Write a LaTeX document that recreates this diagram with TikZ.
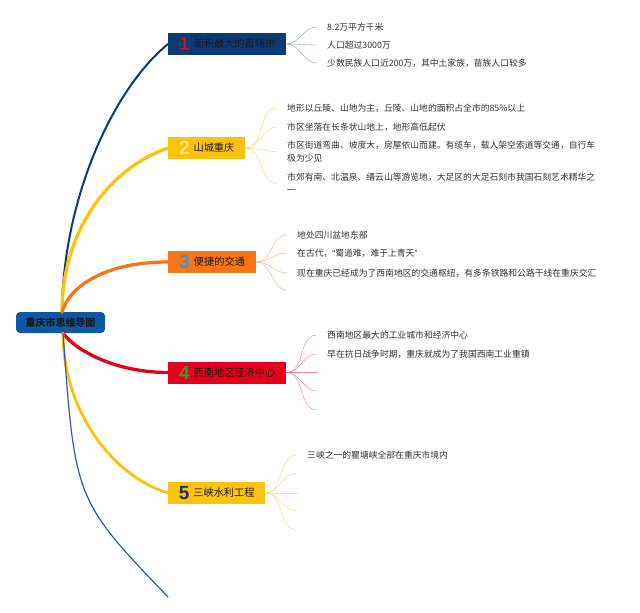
\documentclass[tikz,border=0pt]{standalone}
\usepackage{fontspec}
\setmainfont{Noto Sans CJK SC}
\newfontfamily\numfont{Liberation Sans}
\definecolor{rootfill}{HTML}{0D58A7}
\definecolor{navy}{HTML}{0B3B74}
\definecolor{yel}{HTML}{FDC20E}
\definecolor{ora}{HTML}{F97415}
\definecolor{redc}{HTML}{E5001D}
\definecolor{bluel}{HTML}{2E5BAB}
\definecolor{txtdark}{HTML}{1A1A1A}
\definecolor{leaftxt}{HTML}{333333}
\definecolor{numA}{HTML}{C8102E}
\definecolor{numB}{HTML}{FFE27A}
\definecolor{numC}{HTML}{4A90C8}
\definecolor{numD}{HTML}{3C9A30}
\definecolor{numE}{HTML}{1F2F6A}
\definecolor{lA}{HTML}{8A9AB8}
\definecolor{lB}{HTML}{F6D46A}
\definecolor{lC}{HTML}{F6AE78}
\definecolor{lD}{HTML}{EE7E8E}
\definecolor{lE}{HTML}{F8D878}
\newcommand\bignum[2]{\raisebox{-3pt}{\textcolor{#1}{\numfont\bfseries\fontsize{19}{19}\selectfont #2}}\hspace{4pt}}
\begin{document}
\begin{tikzpicture}[x=1pt,y=-1pt,
  box/.style={inner sep=0pt, minimum height=22pt, anchor=west, text=txtdark, font=\fontsize{10.2}{12}\selectfont},
  leaf/.style={anchor=west, inner sep=0pt, text=leaftxt, font=\fontsize{8.8}{13}\selectfont, align=left},
  rootbox/.style={fill=rootfill, rounded corners=4pt, minimum width=89pt, minimum height=21pt, inner sep=0pt, text=txtdark, font=\bfseries\fontsize{10}{12}\selectfont},
  main/.style={line cap=round},
  twig/.style={line width=0.7pt, out=0, in=180}]
\useasboundingbox (0,0) rectangle (640,613);
\fill[white] (0,0) rectangle (640,613);
% root
\node[rootbox] (root) at (60.5,322.5) {重庆市思维导图};
\coordinate (rt) at (62,312);
\coordinate (rb) at (63,333);
% main nodes
\node[box, fill=navy, minimum width=118pt] (n1) at (168,44) {\bignum{numA}{1}面积最大的直辖市};
\node[box, fill=yel, minimum width=77pt] (n2) at (168,148) {\bignum{numB}{2}山城重庆};
\node[box, fill=ora, minimum width=88pt] (n3) at (168,262) {\bignum{numC}{3}便捷的交通};
\node[box, fill=redc, minimum width=118pt] (n4) at (168,372.5) {\bignum{numD}{4}西南地区经济中心};
\node[box, fill=yel, minimum width=97pt] (n5) at (168,493) {\bignum{numE}{5}三峡水利工程};
\coordinate (n6) at (168,597);
% main connectors
\draw[main, navy, line width=2pt] (rt) .. controls (63,200) and (112,90) .. (n1.west);
\draw[main, yel, line width=3.3pt] (rt) .. controls (62,230) and (110,168) .. (n2.west);
\draw[main, ora, line width=3.3pt] (rt) .. controls (68,290) and (100,262) .. (n3.west);
\draw[main, redc, line width=3.3pt] (rb) .. controls (75,350) and (115,372.5) .. (n4.west);
\draw[main, yel, line width=2.8pt] (rb) .. controls (63,410) and (112,476) .. (n5.west);
\draw[main, bluel, line width=1.2pt] (rb) .. controls (75,500) .. (n6);
% leaves 1
\node[leaf] (a1) at (327,27) {8.2万平方千米};
\node[leaf] (a2) at (327,45) {人口超过3000万};
\node[leaf] (a3) at (327,63) {少数民族人口近200万，其中土家族，苗族人口较多};
\foreach \t in {a1,a2,a3} \draw[lA] (n1.east) to[twig] ([xshift=-10pt]\t.west);
% leaves 2
\node[leaf] (b1) at (287,108) {地形以丘陵、山地为主，丘陵、山地的面积占全市的85\%以上};
\node[leaf] (b2) at (287,127) {市区坐落在长条状山地上，地形高低起伏};
\node[leaf] (b3) at (287,151.5) {市区街道弯曲、坡度大，房屋依山而建。有缆车，载人架空索道等交通，自行车\\极为少见};
\node[leaf] (b4) at (287,183.5) {市郊有南、北温泉、缙云山等游览地，大足区的大足石刻市我国石刻艺术精华之\\一};
\foreach \t in {b1,b2,b3,b4} \draw[lB] (n2.east) to[twig] ([xshift=-10pt]\t.west);
% leaves 3
\node[leaf] (c1) at (297,235) {地处四川盆地东部};
\node[leaf] (c2) at (297,253) {在古代，{\numfont “}蜀道难，难于上青天{\numfont ”}};
\node[leaf] (c3) at (297,273) {现在重庆已经成为了西南地区的交通枢纽，有多条铁路和公路干线在重庆交汇};
\coordinate (c4) at (297,290);
\foreach \t in {c1,c2,c3} \draw[lC] (n3.east) to[twig] ([xshift=-10pt]\t.west);
\draw[lC] (n3.east) to[twig] ([xshift=-10pt]c4);
% leaves 4
\node[leaf] (d1) at (327,335) {西南地区最大的工业城市和经济中心};
\node[leaf] (d2) at (327,354) {早在抗日战争时期，重庆就成为了我国西南工业重镇};
\coordinate (d3) at (317,372.5);
\coordinate (d4) at (317,391);
\coordinate (d5) at (317,410);
\foreach \t in {d1,d2} \draw[lD] (n4.east) to[twig] ([xshift=-10pt]\t.west);
\foreach \t in {d3,d4,d5} \draw[lD] (n4.east) to[twig] (\t);
% leaves 5
\node[leaf] (e1) at (307,455) {三峡之一的瞿塘峡全部在重庆市境内};
\coordinate (e2) at (297,473);
\coordinate (e3) at (297,493);
\coordinate (e4) at (297,511);
\coordinate (e5) at (297,530);
\draw[lE] (n5.east) to[twig] ([xshift=-10pt]e1.west);
\foreach \t in {e2,e3,e4,e5} \draw[lE] (n5.east) to[twig] (\t);
\end{tikzpicture}
\end{document}
